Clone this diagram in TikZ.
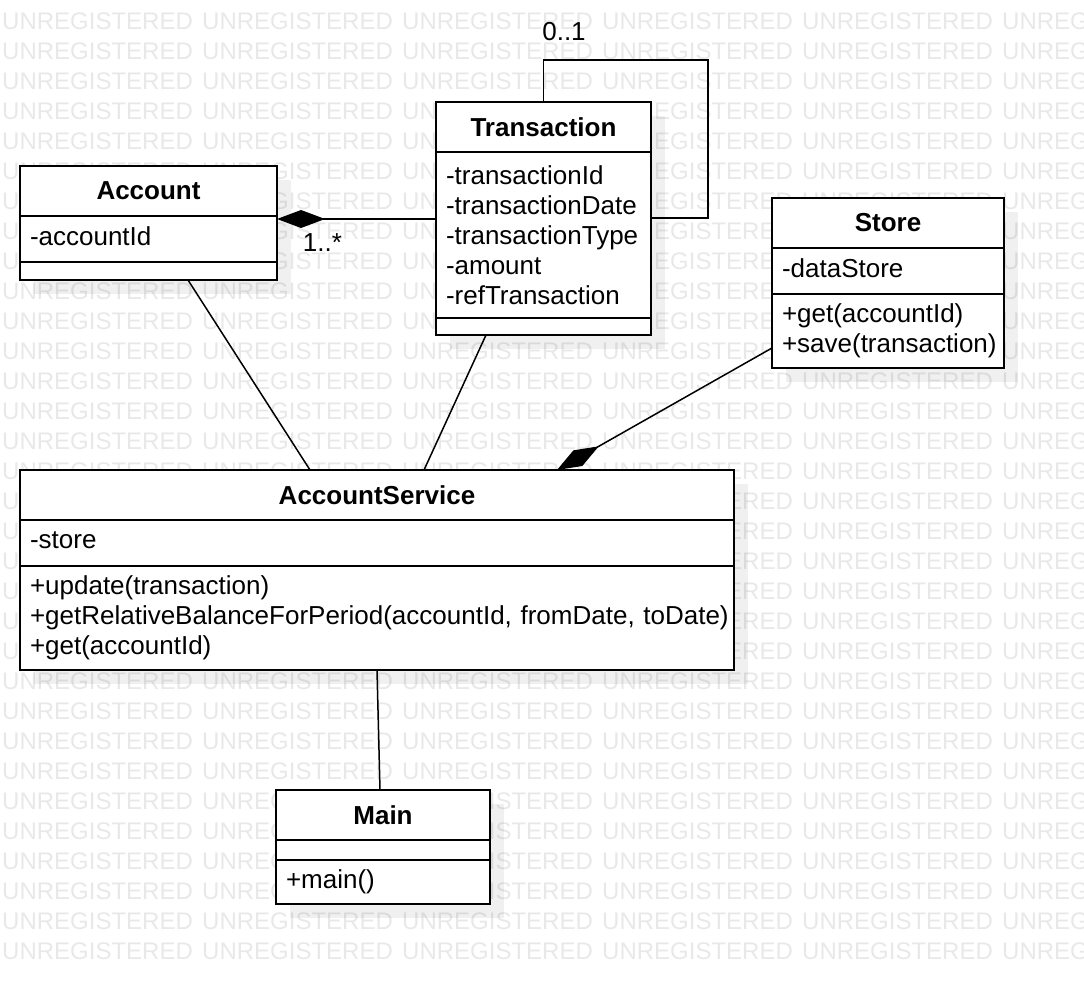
\documentclass[tikz,border=0pt]{standalone}
\usepackage{fontspec}
\setmainfont{Liberation Sans}
\usetikzlibrary{positioning,arrows.meta,backgrounds}
\begin{document}
\begin{tikzpicture}[x=1pt,y=-1pt,
head/.style={draw,fill=white,line width=2pt,outer sep=0pt,inner sep=0pt,minimum height=50pt,font=\fontsize{26}{30}\selectfont\bfseries},
part/.style={draw,fill=white,line width=2pt,outer sep=0pt,inner xsep=10pt,inner ysep=0pt,align=left,font=\fontsize{26}{30}\selectfont},
field/.style={part,text depth=5pt},
lbl/.style={inner sep=0pt,font=\fontsize{26}{30}\selectfont},
wmark/.style={anchor=west,inner sep=0pt,text=black!9,font=\fontsize{24}{24}\selectfont},
shade/.style={fill=black,opacity=0.06},
link/.style={line width=1.5pt},
composite/.style={link,{Diamond[length=48pt,width=18pt]}-}]

\useasboundingbox (0,0) rectangle (1084,984);

% classes
\node[head,minimum width=257pt] (acc) at (148.5,191) {Account};
\node[field,below=0pt of acc,text width=237pt,minimum height=46pt] (acca) {-accountId};
\node[part,below=0pt of acca,minimum width=257pt,minimum height=18pt] (accm) {};

\node[head,minimum width=215pt] (tr) at (543.5,127) {Transaction};
\node[part,below=0pt of tr,text width=195pt,minimum height=166pt] (tra) {-transactionId\\-transactionDate\\-transactionType\\-amount\\-refTransaction};
\node[part,below=0pt of tra,minimum width=215pt,minimum height=17pt] (trm) {};

\node[head,minimum width=232pt] (st) at (888,223) {Store};
\node[field,below=0pt of st,text width=212pt,minimum height=46pt] (sta) {-dataStore};
\node[part,below=0pt of sta,text width=212pt,minimum height=74pt] (stm) {+get(accountId)\\+save(transaction)};

\node[head,minimum width=714pt] (as) at (377,495) {AccountService};
\node[field,below=0pt of as,text width=694pt,minimum height=46pt] (asa) {-store};
\node[part,below=0pt of asa,text width=694pt,minimum height=104pt] (asm) {+update(transaction)\\\mbox{+getRelativeBalanceForPeriod(accountId, fromDate, toDate)}\\+get(accountId)};

\node[head,minimum width=214pt] (mn) at (383,815) {Main};
\node[part,below=0pt of mn,minimum width=214pt,minimum height=20pt] (mna) {};
\node[part,below=0pt of mna,text width=194pt,minimum height=44pt] (mnm) {+main()};

% associations
\coordinate (loop) at (708,60);
\draw[composite] ([yshift=20pt]acca.east) -- ([yshift=16pt]tra.west);
\draw[link] (tr.north) |- (loop) |- ([yshift=17pt]tra.east);
\draw[link] ([xshift=39.5pt]accm.south) -- ([xshift=-67pt]as.north);
\draw[link] ([xshift=-57.5pt]trm.south) -- ([xshift=47pt]as.north);
\draw[composite] ([xshift=180pt]as.north) -- ([yshift=-17pt]stm.west);
\draw[link] (asm.south) -- ([xshift=-3pt]mn.north);

\node[lbl] (many) at (322.5,243) {1..*};
\node[lbl] (opt) at (564,32) {0..1};

% watermark and shadows
\begin{scope}[on background layer]
\begin{scope}
\clip (0,0) rectangle (1084,984);
\foreach \r in {0,...,31}
  \foreach \c in {0,...,5}
    \node[wmark] (wm\r-\c) at (2+200*\c,21+30*\r) {UNREGISTERED};
\end{scope}
\fill[shade] ([shift={(14,14)}]acc.north west) rectangle ([shift={(14,14)}]accm.south east);
\fill[shade] ([shift={(14,14)}]tr.north west) rectangle ([shift={(14,14)}]trm.south east);
\fill[shade] ([shift={(14,14)}]st.north west) rectangle ([shift={(14,14)}]stm.south east);
\fill[shade] ([shift={(14,14)}]as.north west) rectangle ([shift={(14,14)}]asm.south east);
\fill[shade] ([shift={(14,14)}]mn.north west) rectangle ([shift={(14,14)}]mnm.south east);
\end{scope}
\end{tikzpicture}
\end{document}
